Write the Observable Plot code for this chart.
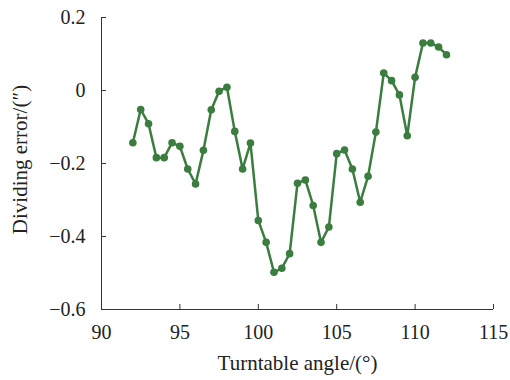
<!DOCTYPE html>
<html>
<head>
<meta charset="utf-8">
<script src="https://cdn.jsdelivr.net/npm/d3@7"></script>
<script src="https://cdn.jsdelivr.net/npm/@observablehq/plot@0.6"></script>
<style>
  html, body { margin: 0; padding: 0; background: #fff; }
  #chart svg { display: block; }
</style>
</head>
<body>
<div id="chart"></div>
<script>
const angles = [92, 92.5, 93, 93.5, 94, 94.5, 95, 95.5, 96, 96.5, 97, 97.5, 98, 98.5, 99, 99.5,
  100, 100.5, 101, 101.5, 102, 102.5, 103, 103.5, 104, 104.5, 105, 105.5, 106, 106.5, 107, 107.5,
  108, 108.5, 109, 109.5, 110, 110.5, 111, 111.5, 112];
const errors = [-0.143, -0.052, -0.091, -0.184, -0.184, -0.143, -0.153, -0.215, -0.256, -0.164,
  -0.053, -0.002, 0.009, -0.112, -0.215, -0.144, -0.356, -0.416, -0.498, -0.487, -0.447,
  -0.254, -0.245, -0.315, -0.416, -0.374, -0.173, -0.163, -0.215, -0.306, -0.235, -0.114,
  0.048, 0.027, -0.012, -0.124, 0.036, 0.130, 0.130, 0.119, 0.098];
const xTicks = [90, 95, 100, 105, 110, 115];
const yTicks = [-0.6, -0.4, -0.2, 0, 0.2];
const xTitle = "Turntable angle/(°)";
const yTitle = "Dividing error/(″)";

const data = angles.map((a, i) => ({angle: a, error: errors[i]}));
const green = "#3a7d3e";
const axisColor = "#333";

const W = 510, H = 380, mL = 101, mR = 17, mT = 17, mB = 71, tickPx = 5;
const plotW = W - mL - mR, plotH = H - mT - mB;
const xMin = xTicks[0], xMax = xTicks[xTicks.length - 1];
const yMin = yTicks[0], yMax = yTicks[yTicks.length - 1];
const yTickLen = (yMax - yMin) * tickPx / plotH;
const xTickLen = (xMax - xMin) * tickPx / plotW;

const chart = Plot.plot({
  width: W,
  height: H,
  marginLeft: mL,
  marginRight: mR,
  marginTop: mT,
  marginBottom: mB,
  style: {fontFamily: "'Liberation Serif', 'Times New Roman', serif", fontSize: "20px", color: "#222", background: "#fff"},
  x: {domain: [xMin, xMax]},
  y: {domain: [yMin, yMax]},
  marks: [
    Plot.axisX(xTicks, {tickSize: 0, tickPadding: 15, fill: "#222", label: null, tickFormat: d3.format("")}),
    Plot.axisY(yTicks, {tickSize: 0, tickPadding: 16, fill: "#222", label: null, tickFormat: d3.format("")}),
    Plot.text([xTitle], {text: d => d, frameAnchor: "bottom", dy: 60, fontSize: 21, fill: "#222", textAnchor: "middle"}),
    Plot.text([yTitle], {text: d => d, frameAnchor: "left", rotate: -90, dx: -81, dy: -4, fontSize: 21, fill: "#222", textAnchor: "middle"}),
    Plot.ruleX(xTicks, {x: d => d, y1: yMin, y2: yMin + yTickLen, stroke: axisColor}),
    Plot.ruleY(yTicks, {y: d => d, x1: xMin, x2: xMin + xTickLen, stroke: axisColor}),
    Plot.ruleX([xMin], {stroke: axisColor}),
    Plot.ruleY([yMin], {stroke: axisColor}),
    Plot.line(data, {x: "angle", y: "error", stroke: green, strokeWidth: 2.5}),
    Plot.dot(data, {x: "angle", y: "error", fill: green, r: 3.8})
  ]
});
document.getElementById("chart").appendChild(chart);
</script>
</body>
</html>
